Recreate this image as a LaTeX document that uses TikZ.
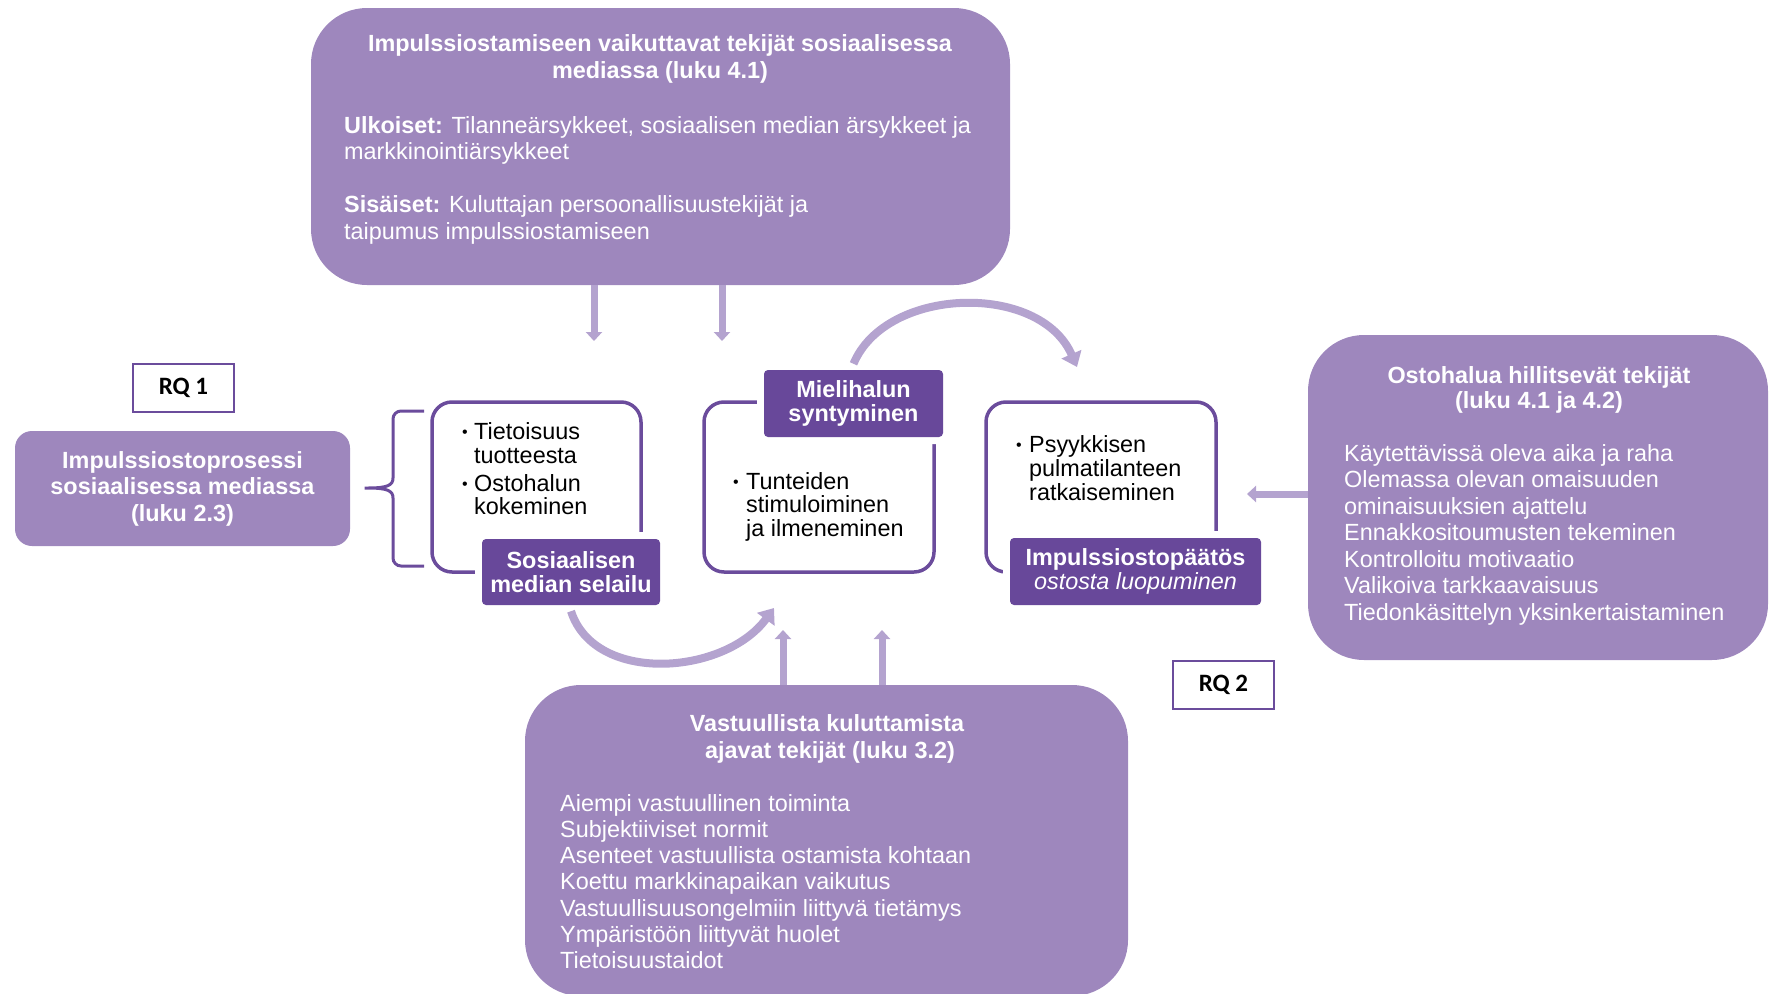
\documentclass[tikz,border=0pt]{standalone}
\usepackage{fontspec}
\setmainfont{Liberation Sans}
\newfontfamily\rqfont{Carlito}
\usetikzlibrary{arrows.meta}

\definecolor{boxfill}{RGB}{158,135,189}
\definecolor{tagfill}{RGB}{104,72,154}
\definecolor{edgec}{RGB}{107,76,156}
\definecolor{flowc}{RGB}{180,163,207}

\tikzset{
  bigbox/.style={fill=boxfill, inner sep=0pt, rounded corners=56pt},
  smallbox/.style={fill=boxfill, inner sep=0pt, rounded corners=17pt},
  stage/.style={draw=edgec, line width=3.5pt, inner sep=0pt, rounded corners=20pt},
  tag/.style={fill=tagfill, text=white, inner sep=0pt, rounded corners=4pt,
    align=center, font=\bfseries\fontsize{23.4}{24}\selectfont,
    preaction={draw=white, line width=14pt}},
  rqbox/.style={draw=edgec, line width=2pt, fill=white, inner sep=0pt,
    minimum width=101pt, minimum height=48pt, font=\rqfont\bfseries\fontsize{25}{28}\selectfont},
  head/.style={text=white, inner sep=0pt, font=\bfseries\fontsize{23.4}{27}\selectfont},
  body/.style={text=white, inner sep=0pt, font=\fontsize{23.4}{27}\selectfont},
  item/.style={text=black, inner sep=0pt, font=\fontsize{23.4}{27}\selectfont},
  dot/.style={text=black, inner sep=0pt, font=\fontsize{16}{18}\selectfont},
  feed/.style={draw=flowc, line width=7pt, -{Triangle[width=16pt,length=9pt]}},
  cycle/.style={draw=flowc, line width=8pt, -{Triangle[width=21pt,length=14pt]}},
  brace/.style={draw=edgec, line width=3pt, rounded corners=8pt},
}

\begin{document}
\begin{tikzpicture}[x=1pt,y=-1pt]
\useasboundingbox (0,0) rectangle (1769,993);

% factor boxes
\node[bigbox, minimum width=699pt, minimum height=277pt] (top) at (660.5,146.5) {};
\node[bigbox, minimum width=460pt, minimum height=325pt] (restrain) at (1538,497.5) {};
\node[bigbox, minimum width=603pt, minimum height=311pt] (resp) at (826.5,840.5) {};
\node[smallbox, minimum width=335pt, minimum height=115pt, head, align=center,
      font=\bfseries\fontsize{23.4}{26.5}\selectfont] (proc) at (182.5,488.5)
      {Impulssiostoprosessi\\sosiaalisessa mediassa\\(luku 2.3)};

% research questions
\node[rqbox] (rq1) at (183.5,388) {RQ 1};
\node[rqbox] (rq2) at (1223.5,685) {RQ 2};

% process stages
\node[stage, minimum width=209pt, minimum height=170pt] (s1) at (536.5,487) {};
\node[stage, minimum width=230pt, minimum height=170pt] (s2) at (819,487) {};
\node[stage, minimum width=230pt, minimum height=170pt] (s3) at (1101,487) {};

\node[tag, minimum width=178pt, minimum height=66pt] (t1) at (571,572) {Sosiaalisen\\median selailu};
\node[tag, minimum width=179pt, minimum height=67pt] (t2) at (853.5,403.5) {Mielihalun\\syntyminen};
\node[tag, minimum width=251pt, minimum height=67pt] (t3) at (1135.5,571.5) {Impulssiostopäätös\\\mdseries\itshape ostosta luopuminen};

% stage contents
\node[dot, anchor=base] (b11) at (465,437) {•};
\node[item, anchor=base west] (i11) at (474,439) {Tietoisuus};
\node[item, anchor=base west] (i12) at (474,463) {tuotteesta};
\node[dot, anchor=base] (b12) at (465,489) {•};
\node[item, anchor=base west] (i13) at (474,491) {Ostohalun};
\node[item, anchor=base west] (i14) at (474,514) {kokeminen};

\node[dot, anchor=base] (b21) at (736,487) {•};
\node[item, anchor=base west] (i21) at (746,489) {Tunteiden};
\node[item, anchor=base west] (i22) at (746,512) {stimuloiminen};
\node[item, anchor=base west] (i23) at (746,536) {ja ilmeneminen};

\node[dot, anchor=base] (b31) at (1019,450) {•};
\node[item, anchor=base west] (i31) at (1029,452) {Psyykkisen};
\node[item, anchor=base west] (i32) at (1029,476) {pulmatilanteen};
\node[item, anchor=base west] (i33) at (1029,500) {ratkaiseminen};

% texts of the top box
\node[head, anchor=base] (th1) at (660,51) {Impulssiostamiseen vaikuttavat tekijät sosiaalisessa};
\node[head, anchor=base] (th2) at (660,78) {mediassa (luku 4.1)};
\node[body, anchor=base west] (tb1) at (344,133) {\bfseries Ulkoiset: \mdseries Tilanneärsykkeet, sosiaalisen median ärsykkeet ja};
\node[body, anchor=base west] (tb2) at (344,159) {markkinointiärsykkeet};
\node[body, anchor=base west] (tb3) at (344,212) {\bfseries Sisäiset: \mdseries Kuluttajan persoonallisuustekijät ja};
\node[body, anchor=base west] (tb4) at (344,239) {taipumus impulssiostamiseen};

% texts of the right box
\node[head, anchor=base] (rh1) at (1539,383) {Ostohalua hillitsevät tekijät};
\node[head, anchor=base] (rh2) at (1539,408) {(luku 4.1 ja 4.2)};
\foreach \txt [count=\i from 0] in {Käytettävissä oleva aika ja raha, Olemassa olevan omaisuuden,
    ominaisuuksien ajattelu, Ennakkositoumusten tekeminen, Kontrolloitu motivaatio,
    Valikoiva tarkkaavaisuus, Tiedonkäsittelyn yksinkertaistaminen}
  \node[body, anchor=base west] (rl\i) at (1344,{461+26.5*\i}) {\txt};

% texts of the bottom box
\node[head, anchor=base] (bh1) at (827,731) {Vastuullista kuluttamista};
\node[head, anchor=base] (bh2) at (830,758) {ajavat tekijät (luku 3.2)};
\foreach \txt [count=\i from 0] in {Aiempi vastuullinen toiminta, Subjektiiviset normit,
    Asenteet vastuullista ostamista kohtaan, Koettu markkinapaikan vaikutus,
    Vastuullisuusongelmiin liittyvä tietämys, Ympäristöön liittyvät huolet, Tietoisuustaidot}
  \node[body, anchor=base west] (bl\i) at (560,{811+26.3*\i}) {\txt};

% brace joining the process box to the first stage
\draw[brace] (424,411) -- (393,411) -- (393,470)
  .. controls (393,485) and (388,488) .. (360,488)
  .. controls (388,488) and (393,491) .. (393,506) -- (393,566) -- (424,566);

% influence arrows
\coordinate (d1) at (594,341);
\coordinate (d2) at (722,341);
\coordinate (u1) at (783,630);
\coordinate (u2) at (882,630);
\coordinate (w1) at (1247,494);
\draw[feed] (top.south -| d1) -- (d1);
\draw[feed] (top.south -| d2) -- (d2);
\draw[feed] (resp.north -| u1) -- (u1);
\draw[feed] (resp.north -| u2) -- (u2);
\draw[feed] (restrain.west |- w1) -- (w1);

% cycle arrows between stages
\coordinate (c1) at (774,608);
\coordinate (c2) at (1077,367);
\draw[cycle] ([yshift=-6pt]t1.south) .. controls (595,685) and (725,675) .. (c1);
\draw[cycle] ([yshift=6pt]t2.north) .. controls (886,286) and (1040,282) .. (c2);
\end{tikzpicture}
\end{document}
